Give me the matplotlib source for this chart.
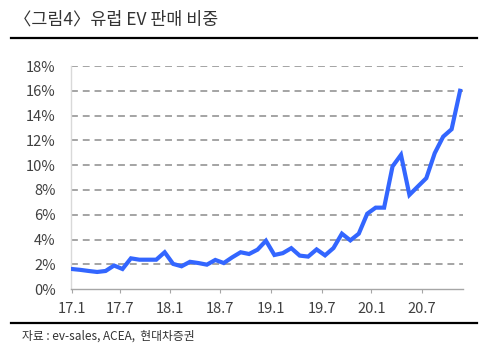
import matplotlib
matplotlib.use('Agg')
import matplotlib.pyplot as plt
from matplotlib.lines import Line2D

plt.rcParams['font.family'] = ['Noto Sans CJK KR', 'DejaVu Sans']

# data: EV share of car sales in Europe, monthly 2017.1 - 2020.11 (%)
share = [1.62, 1.55, 1.46, 1.38, 1.46, 1.90, 1.62, 2.48, 2.37, 2.37,
         2.37, 2.97, 2.03, 1.84, 2.20, 2.10, 1.97, 2.35, 2.10, 2.56,
         2.97, 2.83, 3.18, 3.90, 2.75, 2.90, 3.30, 2.70, 2.62, 3.20,
         2.72, 3.31, 4.47, 3.93, 4.47, 6.08, 6.57, 6.57, 9.90, 10.83,
         7.60, 8.28, 8.95, 10.97, 12.30, 12.90, 16.00]
months = list(range(len(share)))

tick_labels = ['17.1', '17.7', '18.1', '18.7', '19.1', '19.7', '20.1', '20.7']
tick_pos = [0, 5.7, 11.65, 17.6, 23.6, 29.6, 35.5, 41.5]
y_ticks = list(range(0, 19, 2))

fig = plt.figure(figsize=(4.91, 3.56), dpi=100)
ax = fig.add_axes([0.1446, 0.188, 0.9430 - 0.1446, 0.8146 - 0.188])

for y in y_ticks[1:]:
    ax.axhline(y, color='#8c8c8c', lw=1.1, linestyle=(0, (4.5, 3.2)), zorder=1)

ax.plot(months, share, color='#3366ff', lw=3.0, solid_joinstyle='miter', zorder=3)

ax.set_xlim(-0.1, 46.35)
ax.set_ylim(0, 18)
ax.set_yticks(y_ticks)
ax.set_yticklabels([str(v) + '%' for v in y_ticks])
ax.set_xticks(tick_pos)
ax.set_xticklabels(tick_labels)

for s in ['top', 'right']:
    ax.spines[s].set_visible(False)
ax.spines['left'].set_color('#d9d9d9')
ax.spines['bottom'].set_color('#a6a6a6')
ax.spines['left'].set_linewidth(1.0)
ax.spines['bottom'].set_linewidth(1.0)
ax.tick_params(axis='y', length=0, pad=11, labelsize=10.5, labelcolor='#404040')
ax.tick_params(axis='x', length=3, width=0.8, color='#a6a6a6', pad=6,
               labelsize=10.5, labelcolor='#404040')

# title and frame lines
fig.text(14 / 491, 1 - 20 / 356, '〈그림4〉유럽 EV 판매 비중', fontsize=12.5,
         color='#333333', va='center', ha='left')
fig.add_artist(Line2D([11 / 491, 477 / 491], [1 - 37.7 / 356, 1 - 37.7 / 356],
                      color='black', lw=1.6))
fig.add_artist(Line2D([11 / 491, 477 / 491], [1 - 322.7 / 356, 1 - 322.7 / 356],
                      color='black', lw=1.6))
fig.text(22 / 491, 1 - 336.5 / 356, '자료 : ev-sales, ACEA,  현대차증권', fontsize=8.5,
         color='#333333', va='center', ha='left')

fig.savefig('out.png', dpi=100)
